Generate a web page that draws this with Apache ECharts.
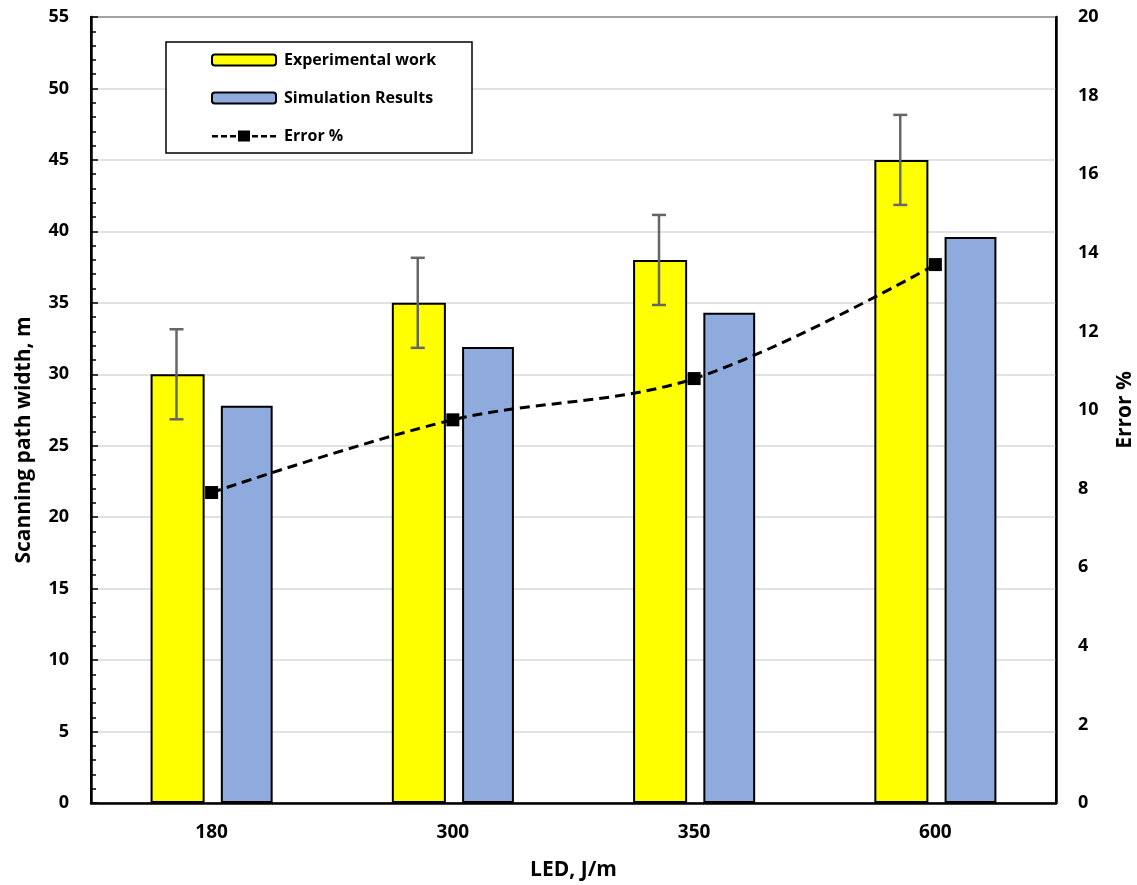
<!DOCTYPE html>
<html>
<head>
<meta charset="utf-8">
<script src="https://cdn.jsdelivr.net/npm/echarts@6/dist/echarts.min.js"></script>
<style>
  html, body { margin: 0; padding: 0; background: #fff; }
  #chart { width: 1137px; height: 885px; }
</style>
</head>
<body>
<div id="chart"></div>
<script>
// Scanning path width vs. linear energy density
const categories = ['180', '300', '350', '600'];
const experimental = [30, 35, 38, 45];
const experimentalErr = [3.15, 3.15, 3.15, 3.15];
const simulation = [27.8, 31.9, 34.3, 39.6];
const errorPct = [7.9, 9.75, 10.8, 13.7];

const FONT = 'Open Sans';
const BAR_W = 0.224;   // bar width as a share of the category band
const BAR_GAP = 0.30;  // gap between the two bars, share of bar width

// legend glyph for the error line: dashes with a square marker in the middle
const ERR_ICON = 'path://M0 4.5h6v2.5H0z M9 4.5h6v2.5H9z M18 4.5h6v2.5h-6z M26 0h12v11H26z M40 4.5h6v2.5h-6z M49 4.5h6v2.5h-6z M58 4.5h6v2.5h-6z';

const chart = echarts.init(document.getElementById('chart'));

const bold = (size) => ({ fontFamily: FONT, fontWeight: 'bold', fontSize: size, color: '#000' });

chart.setOption({
  backgroundColor: '#fff',
  animation: false,
  textStyle: { fontFamily: FONT, fontWeight: 'bold', color: '#000' },
  grid: {
    left: 91, right: 81, top: 17, bottom: 82,
    containLabel: false,
    outerBoundsMode: 'none',
    show: true, borderColor: '#000', borderWidth: 2, backgroundColor: 'transparent'
  },
  graphic: [{
    type: 'rect',
    shape: { x: 166, y: 42, width: 306, height: 111 },
    style: { fill: '#fff', stroke: '#000', lineWidth: 1.5 },
    z: 5
  }],
  legend: {
    orient: 'vertical',
    left: 211, top: 50,
    padding: 0,
    itemWidth: 64, itemHeight: 11, itemGap: 18,
    z: 10,
    textStyle: Object.assign(bold(16), { lineHeight: 20, padding: [0, 0, 0, 3] }),
    data: [
      { name: 'Experimental work' },
      { name: 'Simulation Results' },
      { name: 'Error %', icon: ERR_ICON }
    ]
  },
  xAxis: {
    type: 'category',
    data: categories,
    axisLine: { lineStyle: { color: '#000', width: 2.5 } },
    axisTick: { show: false },
    axisLabel: Object.assign(bold(19), { margin: 20 }),
    name: 'LED, J/m',
    nameLocation: 'middle',
    nameGap: 57,
    nameTextStyle: bold(21)
  },
  yAxis: [{
    type: 'value',
    min: 0, max: 55, interval: 5,
    axisLine: { show: true, lineStyle: { color: '#000', width: 2.5 } },
    axisTick: { show: true, inside: true, length: 7, lineStyle: { color: '#000', width: 1.5 } },
    minorTick: { show: true, splitNumber: 5, length: 5, lineStyle: { color: '#000', width: 1.5 } },
    splitLine: { show: true, lineStyle: { color: '#d9d9d9', width: 1.5 } },
    axisLabel: Object.assign(bold(18), { margin: 22 }),
    name: 'Scanning path width, m',
    nameLocation: 'middle',
    nameGap: 56,
    nameTextStyle: Object.assign(bold(21), { padding: [0, 60, 0, 0] })
  }, {
    type: 'value',
    position: 'right',
    min: 0, max: 20, interval: 2,
    axisLine: { show: true, lineStyle: { color: '#000', width: 2.5 } },
    axisTick: { show: false },
    splitLine: { show: false },
    axisLabel: Object.assign(bold(18), { margin: 22 }),
    name: 'Error %',
    nameLocation: 'middle',
    nameGap: 59,
    nameTextStyle: bold(21)
  }],
  series: [{
    name: 'Experimental work',
    type: 'bar',
    data: experimental,
    barWidth: (BAR_W * 100) + '%',
    barGap: (BAR_GAP * 100) + '%',
    itemStyle: { color: '#ffff00', borderColor: '#000', borderWidth: 2 },
    z: 2
  }, {
    name: 'Simulation Results',
    type: 'bar',
    data: simulation,
    itemStyle: { color: '#8faadc', borderColor: '#000', borderWidth: 2 },
    z: 2
  }, {
    // error bars on the experimental bars
    type: 'custom',
    name: 'expErr',
    data: experimental.map((v, i) => [i, v, experimentalErr[i]]),
    z: 3,
    renderItem: function (params, api) {
      const i = api.value(0), v = api.value(1), e = api.value(2);
      const band = api.size([1, 0])[0];
      const bw = band * BAR_W;
      const dx = -(bw + bw * BAR_GAP) / 2;
      const top = api.coord([i, v + e]);
      const bot = api.coord([i, v - e]);
      const x = top[0] + dx;
      const cap = 7;
      const style = { stroke: '#666', lineWidth: 2.5 };
      return {
        type: 'group',
        children: [
          { type: 'line', shape: { x1: x, y1: top[1], x2: x, y2: bot[1] }, style },
          { type: 'line', shape: { x1: x - cap, y1: top[1], x2: x + cap, y2: top[1] }, style },
          { type: 'line', shape: { x1: x - cap, y1: bot[1], x2: x + cap, y2: bot[1] }, style }
        ]
      };
    }
  }, {
    name: 'Error %',
    type: 'line',
    yAxisIndex: 1,
    data: errorPct,
    smooth: 0.35,
    symbol: 'rect',
    symbolSize: 13,
    lineStyle: { color: '#000', width: 3, type: [10, 6] },
    itemStyle: { color: '#000' },
    z: 4
  }]
});
</script>
</body>
</html>
